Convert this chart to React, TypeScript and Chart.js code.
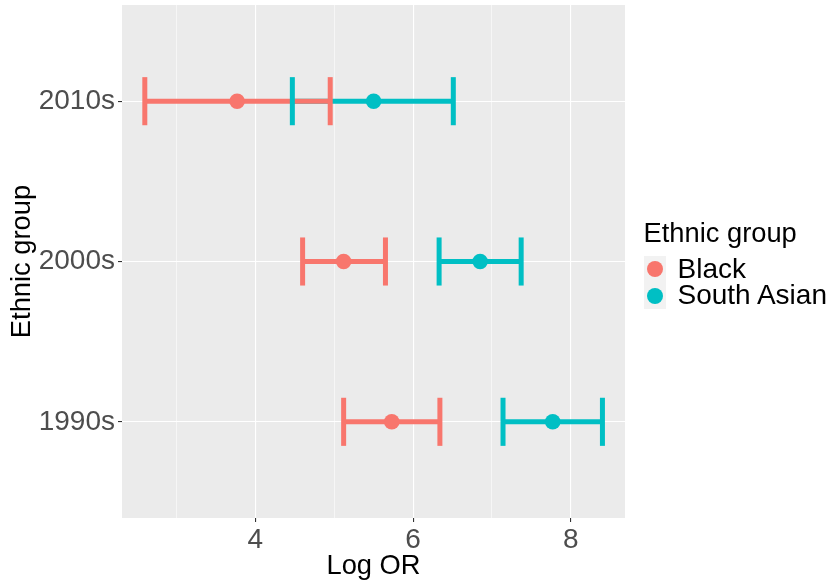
import React, { useEffect, useRef } from 'react';
import { Chart, registerables } from 'chart.js';

Chart.register(...registerables);

const decades = ['1990s', '2000s', '2010s'];
const groups = ['Black', 'South Asian'];
const groupColors = ['#F8766D', '#00BFC4'];

const blackEst = [5.73, 5.12, 3.77];
const blackLow = [5.12, 4.6, 2.6];
const blackHigh = [6.34, 5.65, 4.95];

const southAsianEst = [7.77, 6.85, 5.5];
const southAsianLow = [7.14, 6.33, 4.47];
const southAsianHigh = [8.4, 7.37, 6.51];

const xTicks = [3, 4, 5, 6, 7, 8];
const xLabelTicks = [4, 6, 8];

const FONT = '"Liberation Sans", Arial, Helvetica, sans-serif';
const TICK_SIZE = 28;
const TITLE_SIZE = 27.3;

const panelBg = {
  id: 'panelBg',
  beforeDraw(chart: any) {
    const { ctx, chartArea } = chart;
    ctx.save();
    ctx.fillStyle = '#EBEBEB';
    ctx.fillRect(chartArea.left, chartArea.top, chartArea.right - chartArea.left, chartArea.bottom - chartArea.top);
    ctx.restore();
  },
};

const errorBars = {
  id: 'errorBars',
  beforeDatasetsDraw(chart: any) {
    const { ctx } = chart;
    const x = chart.scales.x;
    const y = chart.scales.y;
    const lows = [blackLow, southAsianLow];
    const highs = [blackHigh, southAsianHigh];
    ctx.save();
    ctx.lineWidth = 5;
    ctx.lineCap = 'butt';
    for (const g of [1, 0]) {
      ctx.strokeStyle = groupColors[g];
      decades.forEach((_, i) => {
        const py = y.getPixelForValue(i);
        ctx.beginPath();
        ctx.moveTo(x.getPixelForValue(lows[g][i]), py);
        ctx.lineTo(x.getPixelForValue(highs[g][i]), py);
        ctx.stroke();
      });
    }
    for (const g of [0, 1]) {
      ctx.strokeStyle = groupColors[g];
      decades.forEach((_, i) => {
        const top = y.getPixelForValue(i + 0.15);
        const bot = y.getPixelForValue(i - 0.15);
        for (const v of [lows[g][i], highs[g][i]]) {
          const px = x.getPixelForValue(v);
          ctx.beginPath();
          ctx.moveTo(px, top);
          ctx.lineTo(px, bot);
          ctx.stroke();
        }
      });
    }
    ctx.restore();
  },
};

export default function App() {
  const canvasRef = useRef<HTMLCanvasElement | null>(null);

  useEffect(() => {
    if (!canvasRef.current) return;
    const ests = [blackEst, southAsianEst];
    const chart = new Chart(canvasRef.current, {
      type: 'scatter',
      data: {
        datasets: groups.map((name, g) => ({
          label: name,
          data: decades.map((_, i) => ({ x: ests[g][i], y: i })),
          backgroundColor: groupColors[g],
          borderColor: groupColors[g],
          pointRadius: 7.8,
          pointBorderWidth: 0,
          pointHoverRadius: 7.8,
        })),
      },
      options: {
        animation: false,
        responsive: true,
        maintainAspectRatio: false,
        layout: { autoPadding: false, padding: { top: 5, right: 206, left: 0, bottom: 0 } },
        plugins: { legend: { display: false }, tooltip: { enabled: false } },
        scales: {
          x: {
            type: 'linear',
            min: 2.311,
            max: 8.686,
            border: { display: false },
            afterBuildTicks: (scale: any) => {
              scale.ticks = xTicks.map((v) => ({ value: v }));
            },
            afterFit: (scale: any) => {
              scale.height = 62;
              scale.paddingLeft = 0;
              scale.paddingRight = 0;
            },
            grid: {
              color: '#FFFFFF',
              lineWidth: (c: any) => (xLabelTicks.includes(c.tick?.value) ? 1.1 : 0.55),
              drawTicks: true,
              tickLength: 4,
              tickWidth: 1.1,
              tickColor: (c: any) => (xLabelTicks.includes(c.tick?.value) ? '#333333' : 'rgba(0,0,0,0)'),
            },
            ticks: {
              autoSkip: false,
              maxRotation: 0,
              padding: 1,
              color: '#4D4D4D',
              font: { family: FONT, size: TICK_SIZE },
              callback: (v: any) => (xLabelTicks.includes(Number(v)) ? String(v) : ''),
            },
            title: {
              display: true,
              text: 'Log OR',
              color: '#000000',
              font: { family: FONT, size: TITLE_SIZE, lineHeight: 1 },
              padding: { top: 0, bottom: 0 },
            },
          },
          y: {
            type: 'linear',
            min: -0.6,
            max: 2.6,
            border: { display: false },
            afterBuildTicks: (scale: any) => {
              scale.ticks = decades.map((_, i) => ({ value: i }));
            },
            afterFit: (scale: any) => {
              scale.width = 122;
              scale.paddingTop = 0;
              scale.paddingBottom = 0;
            },
            grid: {
              color: '#FFFFFF',
              lineWidth: 1.1,
              drawTicks: true,
              tickLength: 4,
              tickWidth: 1.1,
              tickColor: '#333333',
            },
            ticks: {
              autoSkip: false,
              padding: 3,
              color: '#4D4D4D',
              font: { family: FONT, size: TICK_SIZE },
              callback: (v: any) => decades[Number(v)] ?? '',
            },
            title: {
              display: true,
              text: 'Ethnic group',
              color: '#000000',
              font: { family: FONT, size: TITLE_SIZE, lineHeight: 1 },
              padding: { top: 8.5, bottom: 0 },
            },
          },
        },
      },
      plugins: [panelBg, errorBars],
    } as any);
    return () => chart.destroy();
  }, []);

  const textStyle: React.CSSProperties = {
    position: 'absolute',
    fontFamily: FONT,
    lineHeight: '26px',
    color: '#000000',
    whiteSpace: 'nowrap',
  };

  return (
    <div style={{ position: 'fixed', left: 0, top: 0, width: 831, height: 580, background: '#FFFFFF', overflow: 'hidden' }}>
      <canvas ref={canvasRef} style={{ display: 'block' }} />
      <div style={{ ...textStyle, fontSize: TITLE_SIZE, left: 643.5, top: 219.5 }}>Ethnic group</div>
      <div style={{ position: 'absolute', left: 644, top: 256, width: 21.5, height: 53, background: '#F2F2F2' }} />
      {groups.map((name, g) => (
        <React.Fragment key={name}>
          <div
            style={{
              position: 'absolute',
              left: 646.5,
              top: 261 + g * 26.5,
              width: 16,
              height: 16,
              borderRadius: '50%',
              background: groupColors[g],
            }}
          />
          <div style={{ ...textStyle, fontSize: TICK_SIZE, left: 677.5, top: 256 + g * 26.2 }}>{name}</div>
        </React.Fragment>
      ))}
    </div>
  );
}
